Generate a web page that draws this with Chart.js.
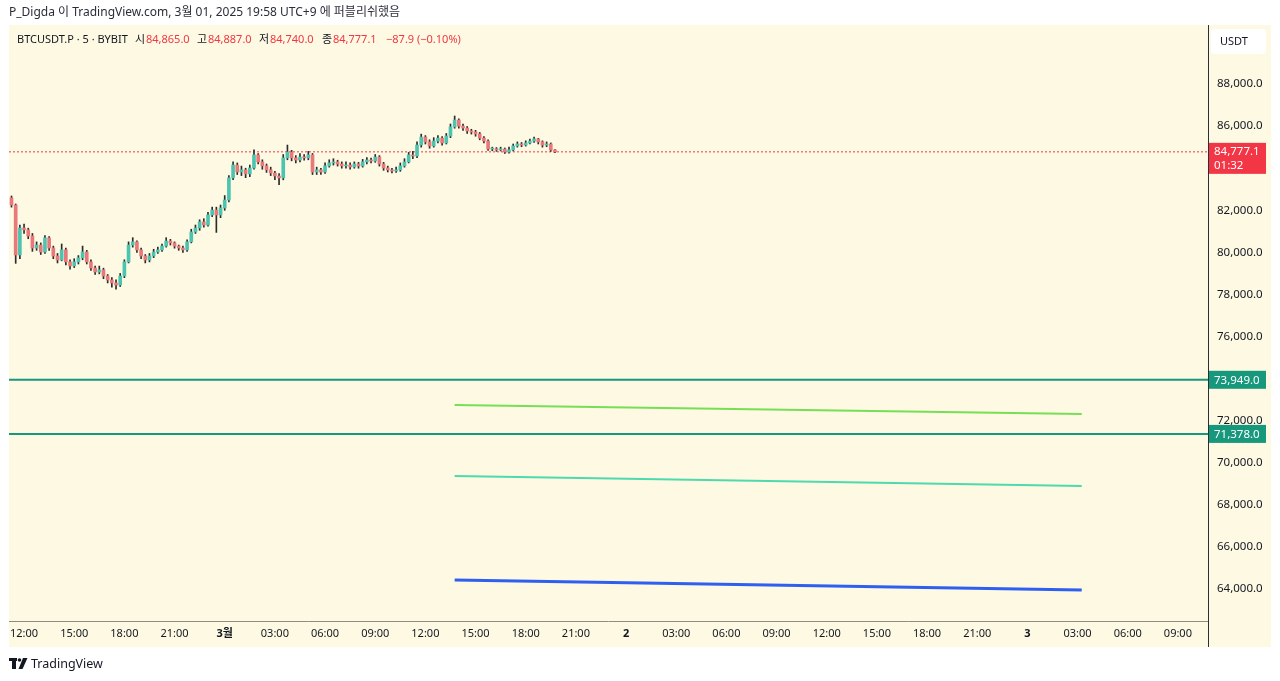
<!DOCTYPE html>
<html>
<head>
<meta charset="utf-8">
<title>BTCUSDT.P 5 BYBIT</title>
<script src="https://cdn.jsdelivr.net/npm/chart.js@4.4.1/dist/chart.umd.min.js"></script>
<style>
    html, body { margin: 0; padding: 0; background: #ffffff; }
    #wrap { position: relative; width: 1280px; height: 681px; }
</style>
</head>
<body>
<div id="wrap"><canvas id="btcChart"></canvas></div>
<script>
// Bougies de 15 min, heures depuis 2/28 00:00 (UTC+9)
const candleStart = 11.25;
const candleStep = 0.25;

const opens = [
    82590, 82250, 79880, 81160, 81070, 80780, 80210, 80350, 80020, 80690,
    80210, 79830, 79640, 80120, 79550, 79360, 79550, 79740, 80020, 79550,
    79260, 79070, 79170, 78880, 78690, 78550, 78450, 78880, 79550, 80350,
    80500, 80120, 79830, 79640, 79830, 80020, 80120, 80300, 80540, 80450,
    80300, 80210, 80120, 80500, 80970, 81160, 81450, 81300, 81780, 82010,
    81780, 82110, 82490, 83540, 84150, 83820, 83920, 83730, 84010, 84630,
    84300, 84110, 83920, 83770, 83630, 83540, 84490, 84770, 84490, 84390,
    84530, 84490, 84630, 83820, 83920, 83820, 84110, 84250, 84300, 84200,
    84110, 84150, 84060, 84200, 84110, 84300, 84390, 84340, 84530, 84200,
    84010, 83920, 83870, 83920, 84110, 84300, 84630, 84580, 85100, 85480,
    85250, 85060, 85290, 85430, 85200, 85530, 85960, 86290, 86000, 85910,
    85770, 85720, 85630, 85430, 85290, 84910, 84910, 84870, 84910, 84770,
    84870, 85060, 85150, 85100, 85200, 85290, 85390, 85250, 85100, 85150,
    84865
];
const highs = [
    82680, 82300, 81300, 81350, 81150, 80900, 80500, 80450, 80800, 80750,
    80300, 79950, 80400, 80200, 79650, 79700, 79850, 80300, 80100, 79650,
    79350, 79350, 79250, 78950, 78800, 78700, 79000, 79650, 80500, 80700,
    80550, 80200, 79900, 79950, 80150, 80250, 80400, 80700, 80620, 80500,
    80350, 80300, 80600, 81100, 81300, 81550, 81600, 81900, 82150, 82150,
    82250, 82700, 83650, 84300, 84250, 84100, 84000, 84150, 84870, 84700,
    84400, 84200, 84050, 83850, 83750, 84650, 85100, 84850, 84600, 84700,
    84650, 84800, 84700, 84050, 84000, 84250, 84400, 84450, 84380, 84300,
    84300, 84250, 84300, 84280, 84420, 84500, 84480, 84650, 84600, 84280,
    84100, 84000, 84050, 84250, 84450, 84750, 84800, 85250, 85620, 85550,
    85350, 85450, 85550, 85500, 85650, 86100, 86480, 86350, 86100, 85980,
    85850, 85800, 85700, 85500, 85350, 85000, 84980, 85000, 84960, 85000,
    85150, 85250, 85220, 85300, 85380, 85480, 85420, 85300, 85250, 85200,
    84887
];
const lows = [
    82150, 79480, 79700, 80900, 80650, 80050, 80100, 79900, 79950, 80100,
    79700, 79500, 79600, 79400, 79200, 79280, 79450, 79650, 79450, 79150,
    78950, 78980, 78750, 78550, 78350, 78250, 78380, 78800, 79500, 80250,
    80000, 79700, 79500, 79550, 79750, 79950, 80050, 80250, 80350, 80200,
    80100, 80000, 80050, 80450, 80900, 81050, 81200, 81250, 81700, 80950,
    81650, 82000, 82400, 83450, 83700, 83650, 83550, 83600, 83950, 84200,
    83950, 83800, 83650, 83450, 83220, 83450, 84400, 84350, 84250, 84300,
    84380, 84400, 83700, 83700, 83700, 83750, 84050, 84150, 84100, 84000,
    84000, 83950, 84000, 84000, 84050, 84200, 84250, 84280, 84100, 83900,
    83820, 83780, 83800, 83850, 84050, 84250, 84450, 84500, 85000, 85150,
    84950, 85000, 85200, 85100, 85150, 85450, 85900, 85900, 85800, 85650,
    85620, 85520, 85350, 85200, 84850, 84830, 84800, 84820, 84700, 84720,
    84820, 85000, 85020, 85050, 85150, 85220, 85150, 85000, 85020, 84800,
    84740
];
const closes = [
    82250, 79880, 81160, 81070, 80780, 80210, 80350, 80020, 80690, 80210,
    79830, 79640, 80120, 79550, 79360, 79550, 79740, 80020, 79550, 79260,
    79070, 79170, 78880, 78690, 78550, 78450, 78880, 79550, 80350, 80500,
    80120, 79830, 79640, 79830, 80020, 80120, 80300, 80540, 80450, 80300,
    80210, 80120, 80500, 80970, 81160, 81450, 81300, 81780, 82010, 81780,
    82110, 82490, 83540, 84150, 83820, 83920, 83730, 84010, 84630, 84300,
    84110, 83920, 83770, 83630, 83540, 84490, 84770, 84490, 84390, 84530,
    84490, 84630, 83820, 83920, 83820, 84110, 84250, 84300, 84200, 84110,
    84150, 84060, 84200, 84110, 84300, 84390, 84340, 84530, 84200, 84010,
    83920, 83870, 83920, 84110, 84300, 84630, 84580, 85100, 85480, 85250,
    85060, 85290, 85430, 85200, 85530, 85960, 86290, 86000, 85910, 85770,
    85720, 85630, 85430, 85290, 84910, 84910, 84870, 84910, 84770, 84870,
    85060, 85150, 85100, 85200, 85290, 85390, 85250, 85100, 85150, 84865,
    84777.1
];

// Niveaux horizontaux et prix courant
const levelPrices = [73949.0, 71378.0];
const lastPrice = 84777.1;
const countdown = '01:32';

// Lignes de tendance : [début, fin]
const trendTimes = [37.75, 75.25];
const trendGreen = [72750, 72320];
const trendTeal = [69380, 68900];
const trendBlue = [64440, 63960];

// Axes (74,000 et 84,000 sont cachés par les étiquettes)
const timeRange = [11.1, 82.8];
const priceRange = [62490, 90803];
const priceTicks = [64000, 66000, 68000, 70000, 72000, 76000, 78000, 80000, 82000, 86000, 88000];
const timeTicks = [12, 15, 18, 21, 24, 27, 30, 33, 36, 39, 42, 45, 48, 51, 54, 57, 60, 63, 66, 69, 72, 75, 78, 81];
const dayLabels = { 24: '3월', 48: '2', 72: '3' };

const FONT = "'Noto Sans', 'Noto Sans CJK KR', sans-serif";
const TEXT = '#131722';
const RED = '#f23645';
const LEVEL = '#17977c';
const BG = '#fdf9e2';

Chart.defaults.font.family = FONT;

const lastIdx = closes.length - 1;
const candleTimes = closes.map((c, i) => candleStart + i * candleStep);
const wickData = closes.map((c, i) => ({ x: candleTimes[i], y: [lows[i], highs[i]] }));
const bodyData = closes.map((c, i) => ({ x: candleTimes[i], y: [opens[i], c] }));
const bodyColors = closes.map((c, i) => c >= opens[i] ? '#4cc4b0' : '#e9787a');

function fmt(v, d = 1) {
    return v.toLocaleString('en-US', { minimumFractionDigits: d, maximumFractionDigits: d });
}

function fullLine(price) {
    return [{ x: timeRange[0], y: price }, { x: timeRange[1], y: price }];
}
function trendLine(vals) {
    return [{ x: trendTimes[0], y: vals[0] }, { x: trendTimes[1], y: vals[1] }];
}
function lineSet(data, color, width, extra = {}) {
    return Object.assign({
        type: 'line', data, borderColor: color, borderWidth: width,
        pointRadius: 0, fill: false, order: 5
    }, extra);
}

// Décor : fond, entête, étiquettes de prix, pied de page
const decorPlugin = {
    id: 'decor',
    beforeDraw(chart) {
        const ctx = chart.ctx;
        ctx.save();
        ctx.fillStyle = '#ffffff';
        ctx.fillRect(0, 0, chart.width, chart.height);
        ctx.fillStyle = BG;
        ctx.fillRect(9, 25, 1262, 622);
        ctx.restore();
    },
    afterDraw(chart) {
        const ctx = chart.ctx;
        const area = chart.chartArea;
        const y = chart.scales.y;
        ctx.save();

        // bordures
        ctx.strokeStyle = '#8f8c80';
        ctx.lineWidth = 1;
        ctx.beginPath();
        ctx.moveTo(9, area.bottom + 0.5);
        ctx.lineTo(area.right, area.bottom + 0.5);
        ctx.stroke();
        ctx.strokeStyle = '#2a2e39';
        ctx.beginPath();
        ctx.moveTo(area.right + 0.5, 25);
        ctx.lineTo(area.right + 0.5, 647);
        ctx.stroke();

        // entête
        ctx.textBaseline = 'middle';
        ctx.textAlign = 'left';
        ctx.font = '12px ' + FONT;
        ctx.fillStyle = '#2a2e39';
        ctx.fillText('P_Digda 이 TradingView.com, 3월 01, 2025 19:58 UTC+9 에 퍼블리쉬했음', 9, 13);

        const change = closes[lastIdx] - opens[lastIdx];
        const pct = change / opens[lastIdx] * 100;
        const minus = s => s.replace('-', '\u2212');
        ctx.font = '11px ' + FONT;
        const parts = [
            ['BTCUSDT.P · 5 · BYBIT', TEXT, 17],
            ['시', TEXT, 135], [fmt(opens[lastIdx]), RED, 146],
            ['고', TEXT, 197], [fmt(highs[lastIdx]), RED, 208],
            ['저', TEXT, 259], [fmt(lows[lastIdx]), RED, 270],
            ['종', TEXT, 322], [fmt(closes[lastIdx]), RED, 333],
            [minus(fmt(change)) + ' (' + minus(fmt(pct, 2)) + '%)', RED, 386]
        ];
        parts.forEach(p => {
            ctx.fillStyle = p[1];
            ctx.fillText(p[0], p[2], 40);
        });

        // boîte USDT
        ctx.fillStyle = '#ffffff';
        ctx.beginPath();
        ctx.roundRect(1211, 29, 55, 25, 4);
        ctx.fill();
        ctx.fillStyle = TEXT;
        ctx.fillText('USDT', 1220, 42);

        // étiquette du dernier prix
        const py = y.getPixelForValue(lastPrice);
        ctx.fillStyle = RED;
        ctx.fillRect(area.right + 1, py - 9, 57, 31);
        ctx.fillStyle = '#ffffff';
        ctx.font = '11.5px ' + FONT;
        ctx.fillText(fmt(lastPrice), 1214, py);
        ctx.fillText(countdown, 1214, py + 14);

        // étiquettes des niveaux
        levelPrices.forEach(v => {
            const ly = y.getPixelForValue(v);
            ctx.fillStyle = LEVEL;
            ctx.fillRect(area.right + 1, ly - 9, 57, 18);
            ctx.fillStyle = '#ffffff';
            ctx.fillText(fmt(v), 1214, ly + 0.5);
        });

        // pied de page : logo TradingView
        ctx.fillStyle = TEXT;
        ctx.fillRect(9, 658, 8, 3);
        ctx.fillRect(12, 658, 4, 11);
        ctx.beginPath();
        ctx.arc(19.5, 660, 1.8, 0, Math.PI * 2);
        ctx.fill();
        ctx.beginPath();
        ctx.moveTo(23, 658);
        ctx.lineTo(27.5, 658);
        ctx.lineTo(22.5, 669);
        ctx.lineTo(18.5, 669);
        ctx.closePath();
        ctx.fill();
        ctx.font = '12.5px ' + FONT;
        ctx.fillText('TradingView', 31, 664);

        ctx.restore();
    }
};

const ctx = document.getElementById('btcChart').getContext('2d');
new Chart(ctx, {
    type: 'bar',
    data: {
        datasets: [
            {
                label: 'mèches', data: wickData, backgroundColor: '#2b2b2b',
                barThickness: 1, grouped: false, order: 1
            },
            {
                label: 'corps', data: bodyData, backgroundColor: bodyColors,
                barThickness: 3, grouped: false, minBarLength: 1, order: 0
            },
            lineSet(fullLine(lastPrice), RED, 1, { borderDash: [2, 2] }),
            lineSet(fullLine(levelPrices[0]), LEVEL, 2),
            lineSet(fullLine(levelPrices[1]), LEVEL, 2),
            lineSet(trendLine(trendGreen), '#76df56', 2),
            lineSet(trendLine(trendTeal), '#4fd9ae', 2),
            lineSet(trendLine(trendBlue), '#2f5ff0', 3)
        ]
    },
    options: {
        responsive: true,
        maintainAspectRatio: false,
        animation: false,
        devicePixelRatio: 1,
        layout: { padding: { top: 25, left: 9, right: 0, bottom: 34 } },
        plugins: { legend: { display: false }, tooltip: { enabled: false } },
        scales: {
            x: {
                type: 'linear',
                offset: false,
                min: timeRange[0],
                max: timeRange[1],
                grid: { display: false, drawTicks: false },
                border: { display: false },
                afterFit: s => { s.height = 26; },
                afterBuildTicks: s => { s.ticks = timeTicks.map(v => ({ value: v })); },
                ticks: {
                    autoSkip: false,
                    maxRotation: 0,
                    padding: 6,
                    color: TEXT,
                    font: c => ({ size: 11, weight: (c.tick && c.tick.value % 24 === 0) ? 'bold' : 'normal' }),
                    callback: v => {
                        if (v % 24 === 0) return dayLabels[v];
                        return String(v % 24).padStart(2, '0') + ':00';
                    }
                }
            },
            y: {
                position: 'right',
                min: priceRange[0],
                max: priceRange[1],
                grid: { display: false, drawTicks: false },
                border: { display: false },
                afterFit: s => { s.width = 72; },
                afterBuildTicks: s => { s.ticks = priceTicks.map(v => ({ value: v })); },
                ticks: {
                    autoSkip: false,
                    padding: 9,
                    color: TEXT,
                    font: { size: 11.5 },
                    callback: v => fmt(v)
                }
            }
        }
    },
    plugins: [decorPlugin]
});
</script>
</body>
</html>
